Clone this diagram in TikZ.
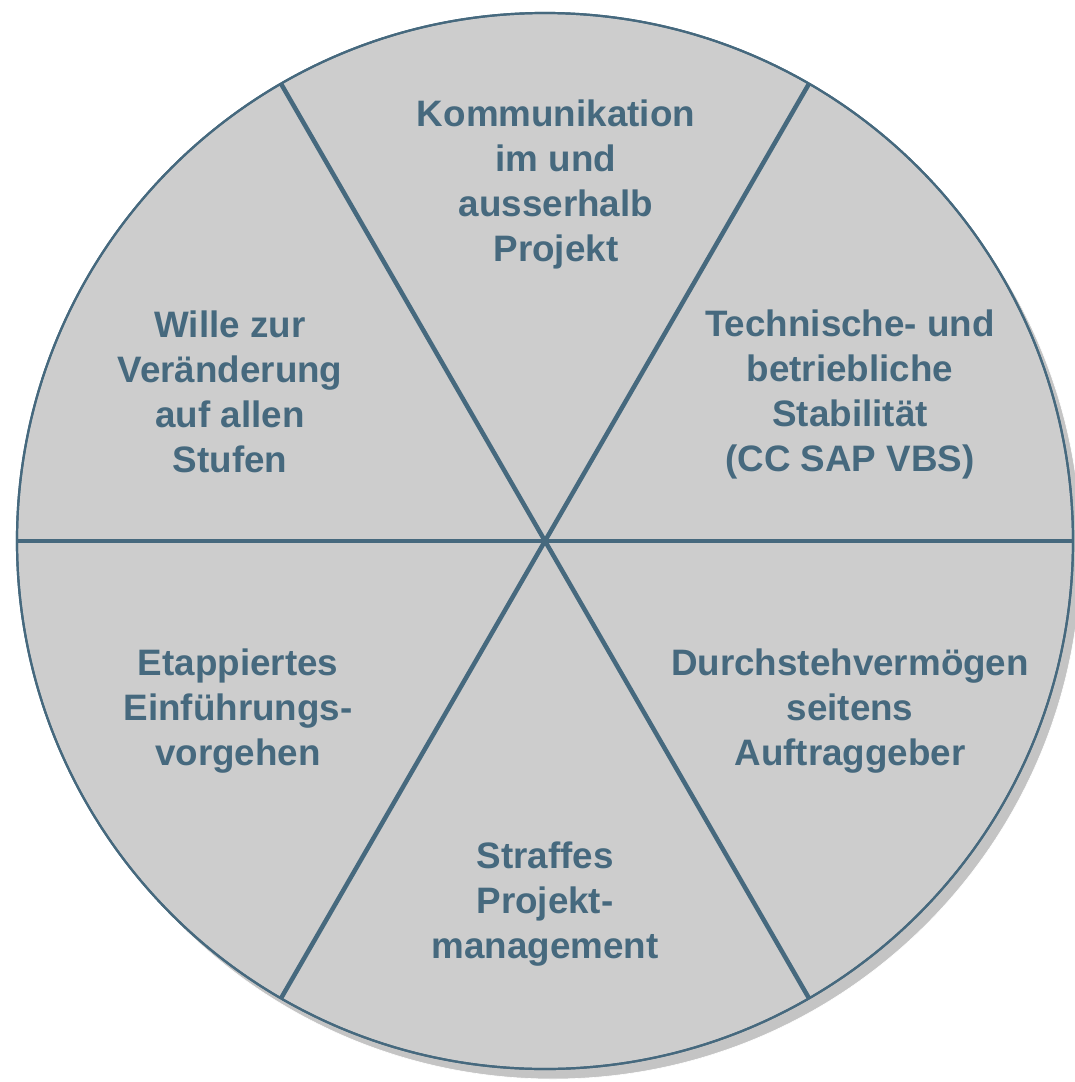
\documentclass[tikz,border=0pt]{standalone}
\usepackage{fontspec}
\setmainfont{Liberation Sans}
\definecolor{fillgray}{HTML}{CDCDCD}
\definecolor{shadowgray}{HTML}{C4C4C4}
\definecolor{bluegray}{HTML}{46697E}
\begin{document}
\begin{tikzpicture}[x=1pt,y=-1pt,
  seglabel/.style={align=center,text=bluegray,font=\fontsize{36.8}{45}\selectfont\bfseries,inner sep=0pt},
  divider/.style={draw=bluegray,line width=4.5pt},
  rim/.style={draw=bluegray,line width=2.2pt,fill=fillgray}]
\useasboundingbox (0,0) rectangle (1075,1082);
\coordinate (c) at (545,541);
% shadow
\fill[shadowgray] (553,551) circle (528);
\draw[white,line width=0.6pt] (553,551) circle (528);
% disc
\draw[rim] (c) circle (528);
% dividers
\draw[divider] (c) ++(-528,0) coordinate (hl) -- ++(1056,0) coordinate (hr);
\draw[divider] (c) ++(-264,-457.3) coordinate (d1a) -- ++(528,914.6) coordinate (d1b);
\draw[divider] (c) ++(264,-457.3) coordinate (d2a) -- ++(-528,914.6) coordinate (d2b);
\draw[bluegray,line width=2.2pt] (c) circle (528);
% labels
\node[seglabel] (top) at (556,184) {Kommunikation\\im und\\ausserhalb\\Projekt};
\node[seglabel] (tl) at (230,392) {Wille zur\\Veränderung\\auf allen\\Stufen};
\node[seglabel] (tr) at (850,394) {Technische- und\\betriebliche\\Stabilität\\(CC SAP VBS)};
\node[seglabel] (bl) at (238,711) {Etappiertes\\Einführungs-\\vorgehen};
\node[seglabel] (br) at (850,711) {Durchstehvermögen\\seitens\\Auftraggeber};
\node[seglabel] (bot) at (545,904) {Straffes\\Projekt-\\management};
\end{tikzpicture}
\end{document}
